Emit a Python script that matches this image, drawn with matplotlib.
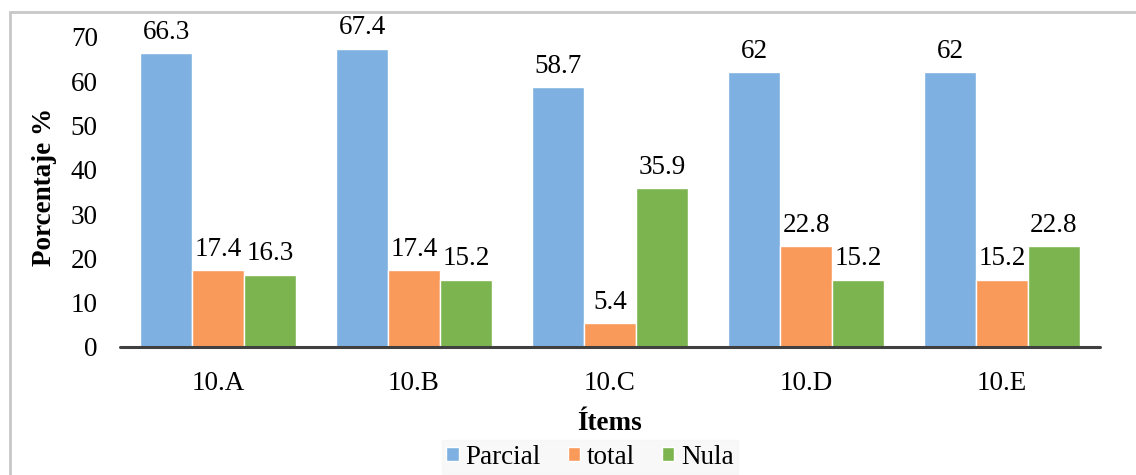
import matplotlib
matplotlib.use("Agg")
import matplotlib.pyplot as plt
from matplotlib.patches import Rectangle
import numpy as np

# data
items = ["10.A", "10.B", "10.C", "10.D", "10.E"]
parcial = [66.3, 67.4, 58.7, 62, 62]
total = [17.4, 17.4, 5.4, 22.8, 15.2]
nula = [16.3, 15.2, 35.9, 15.2, 22.8]
series_names = ["Parcial", "total", "Nula"]
colors = ["#7EB1E1", "#F9995A", "#7CB550"]

plt.rcParams["font.family"] = ["Liberation Serif", "DejaVu Serif"]

W, H = 1136, 475
fig = plt.figure(figsize=(W / 100, H / 100), dpi=100)

# outer chart border (runs off the right and bottom edges)
fig.patches.append(Rectangle((10 / W, -0.2), 1.2, 1.2 - 12 / H, transform=fig.transFigure,
                             fill=False, edgecolor="#C8C8C8", linewidth=2))

ax = fig.add_axes([120 / W, 1 - 347 / H, 980 / W, 310 / H])

fs = 19.5
x = np.arange(len(items))
width = 0.265
for i, (name, vals) in enumerate(zip(series_names, [parcial, total, nula])):
    bars = ax.bar(x + (i - 1) * width, vals, width, color=colors[i], label=name,
                  edgecolor="white", linewidth=1)
    labels = [f"{v:g}" for v in vals]
    ax.bar_label(bars, labels=labels, padding=6, fontsize=fs)

ax.set_xlim(-0.5, len(items) - 0.5)
ax.set_ylim(0, 70)
ax.set_yticks(range(0, 71, 10))
ax.set_xticks(x)
ax.set_xticklabels(items)
ax.tick_params(axis="both", length=0, labelsize=fs)
ax.tick_params(axis="x", pad=17)
ax.tick_params(axis="y", pad=16)
for s in ["top", "right", "left"]:
    ax.spines[s].set_visible(False)
ax.spines["bottom"].set_color("#404040")
ax.spines["bottom"].set_linewidth(2.2)
ax.spines["bottom"].set_capstyle("round")

fig.text(45 / W, 1 - 187 / H, "Porcentaje %", rotation=90, ha="center", va="center",
         fontsize=fs, fontweight="bold")
fig.text(610 / W, 1 - 424 / H, "Ítems", ha="center", va="center",
         fontsize=fs, fontweight="bold")

leg = fig.legend(loc="center", bbox_to_anchor=(590 / W, 1 - 457 / H), ncol=3,
                 fontsize=fs, frameon=True, fancybox=False, handlelength=0.45,
                 handleheight=0.45, handletextpad=0.25, columnspacing=1.0,
                 borderpad=0.15)
leg.get_frame().set_facecolor("#F7F7F7")
leg.get_frame().set_edgecolor("#F7F7F7")

fig.savefig("out.png", dpi=100)
